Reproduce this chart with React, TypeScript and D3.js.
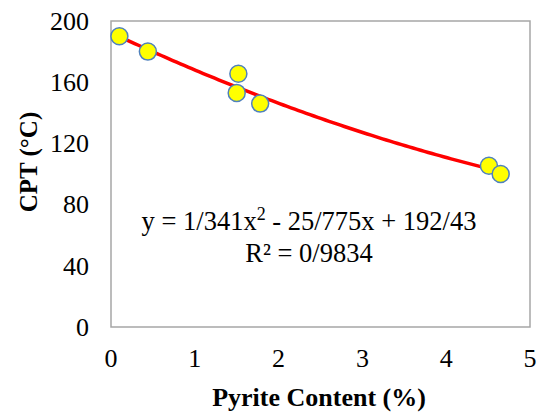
import React from "react";
import * as d3 from "d3";

const pyrite = [0.1, 0.44, 1.52, 1.5, 1.78, 4.51, 4.65];
const cpt = [190, 180, 165.5, 153, 146, 105.4, 100];
const xTicks = [0, 1, 2, 3, 4, 5];
const yTicks = [0, 40, 80, 120, 160, 200];
const coefA = 1.341;
const coefB = -25.775;
const coefC = 192.43;
const eqText = "y = 1/341x";
const eqText2 = " - 25/775x + 192/43";
const r2Text = "R² = 0/9834";

const W = 543;
const H = 412;
const M = { left: 111, right: 13, top: 21, bottom: 85 };

export default function App() {
  const x = d3.scaleLinear().domain([0, 5]).range([M.left, W - M.right]);
  const y = d3.scaleLinear().domain([0, 200]).range([H - M.bottom, M.top]);
  const xMin = d3.min(pyrite)!;
  const xMax = d3.max(pyrite)!;
  const fitPts = d3.range(0, 101).map((i) => {
    const xv = xMin + ((xMax - xMin) * i) / 100;
    return [xv, coefA * xv * xv + coefB * xv + coefC] as [number, number];
  });
  const line = d3
    .line<[number, number]>()
    .x((d) => x(d[0]))
    .y((d) => y(d[1]));
  const font = "'Liberation Serif', 'Times New Roman', serif";
  return (
    <svg
      width={W}
      height={H}
      style={{ position: "absolute", left: 0, top: 0, background: "#fff" }}
      fontFamily={font}
    >
      <rect
        x={x(0)}
        y={y(200)}
        width={x(5) - x(0)}
        height={y(0) - y(200)}
        fill="none"
        stroke="#a6a6a6"
        strokeWidth={1.5}
      />
      {yTicks.map((t) => (
        <text key={t} x={89} y={y(t)} dy="0.34em" textAnchor="end" fontSize={26}>
          {t}
        </text>
      ))}
      {xTicks.map((t) => (
        <text key={t} x={x(t)} y={358} dy="0.34em" textAnchor="middle" fontSize={26}>
          {t}
        </text>
      ))}
      <path d={line(fitPts) || ""} fill="none" stroke="#ff0000" strokeWidth={3.5} />
      {pyrite.map((p, i) => (
        <circle
          key={i}
          cx={x(p)}
          cy={y(cpt[i])}
          r={8.5}
          fill="#ffff00"
          stroke="#4f81bd"
          strokeWidth={1.5}
        />
      ))}
      <text x={309} y={221} dy="0.34em" textAnchor="middle" fontSize={26.5}>
        {eqText}
        <tspan fontSize={18} dy="-0.55em">2</tspan>
        <tspan dy="0.37em">{eqText2}</tspan>
      </text>
      <text x={309} y={253} dy="0.34em" textAnchor="middle" fontSize={26.5}>
        {r2Text}
      </text>
      <text x={319} y={397} dy="0.34em" textAnchor="middle" fontSize={26} fontWeight="bold">
        Pyrite Content (%)
      </text>
      <text
        transform={`translate(28,162) rotate(-90)`}
        dy="0.34em"
        textAnchor="middle"
        fontSize={25}
        fontWeight="bold"
      >
        CPT (°C)
      </text>
    </svg>
  );
}
